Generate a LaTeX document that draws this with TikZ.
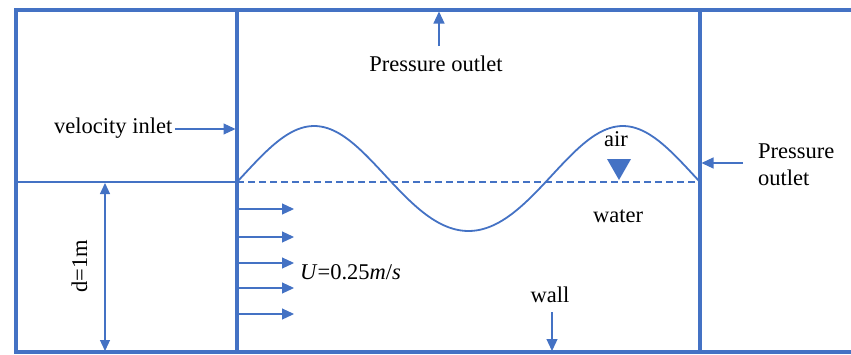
\documentclass[tikz,border=0pt]{standalone}
\usepackage{fontspec}
\setmainfont{Liberation Serif}
\usetikzlibrary{arrows.meta}
\definecolor{ob}{HTML}{4472C4}
\begin{document}
\begin{tikzpicture}[x=1pt,y=-1pt,
  thickln/.style={ob,line width=3.2pt},
  midln/.style={ob,line width=2pt},
  arr/.style={ob,line width=1.2pt,-{Triangle[length=12pt,width=11pt]}},
  lbl/.style={font=\fontsize{22.5}{26}\selectfont,inner sep=0pt,text=black}]
\useasboundingbox (0,0) rectangle (851,354);
% frame
\draw[thickln] (851,10) -- (16,10) -- (16,352) -- (851,352);
\draw[thickln] (237,10) -- (237,352);
\draw[thickln] (700,10) -- (700,352);
\draw[midln] (16,182) -- (237,182);
\draw[ob,line width=1.5pt,dash pattern=on 7pt off 4pt] (237,182) -- (700,182);
% wave
\draw[ob,line width=1.8pt] plot[domain=0:463,samples=160,smooth]
  ({237+\x},{182-52.5*sin(\x/463*540)-3.5*pow(sin(\x/463*540),2)});
% free-surface marker
\fill[ob] (607,159) -- (631,159) -- (619,180) -- cycle;
% labels
\node[lbl,anchor=base] (po) at (436,71) {Pressure outlet};
\node[lbl,anchor=base west] (vi) at (54,133) {velocity inlet};
\node[lbl,anchor=base] (air) at (616,146) {air};
\node[lbl,anchor=base west] (po2) at (758,158) {Pressure};
\node[lbl,anchor=base west] (po3) at (758,185) {outlet};
\node[lbl,anchor=base] (wat) at (618,222) {water};
\node[lbl,anchor=base] (wall) at (550,302) {wall};
\node[lbl,anchor=base west] (U) at (300,279) {\textit{U}=0.25\textit{m}/\textit{s}};
\node[lbl,anchor=base,rotate=90] (d) at (87,266) {d=1m};
% arrows
\coordinate (poT) at (439,11.5);
\coordinate (poS) at (439,46);
\draw[arr] (poS) -- (poT);
\coordinate (viT) at (235.5,129);
\draw[arr] (vi.east |- viT) ++(3,0) -- (viT);
\coordinate (p2S) at (743,163);
\coordinate (p2T) at (701.5,163);
\draw[arr] (p2S) -- (p2T);
\coordinate (wS) at (552,312);
\coordinate (wT) at (552,351);
\draw[arr] (wS) -- (wT);
\coordinate (dT) at (105,183);
\coordinate (dB) at (105,351);
\draw[ob,line width=1.2pt,{Triangle[length=11pt,width=10pt]}-{Triangle[length=11pt,width=10pt]}] (dT) -- (dB);
\foreach \yy/\nm in {209/a,237/b,263/c,288/d,314/e}{
  \coordinate (u\nm S) at (238.5,\yy);
  \coordinate (u\nm T) at (294,\yy);
  \draw[arr] (u\nm S) -- (u\nm T);
}
\end{tikzpicture}
\end{document}
